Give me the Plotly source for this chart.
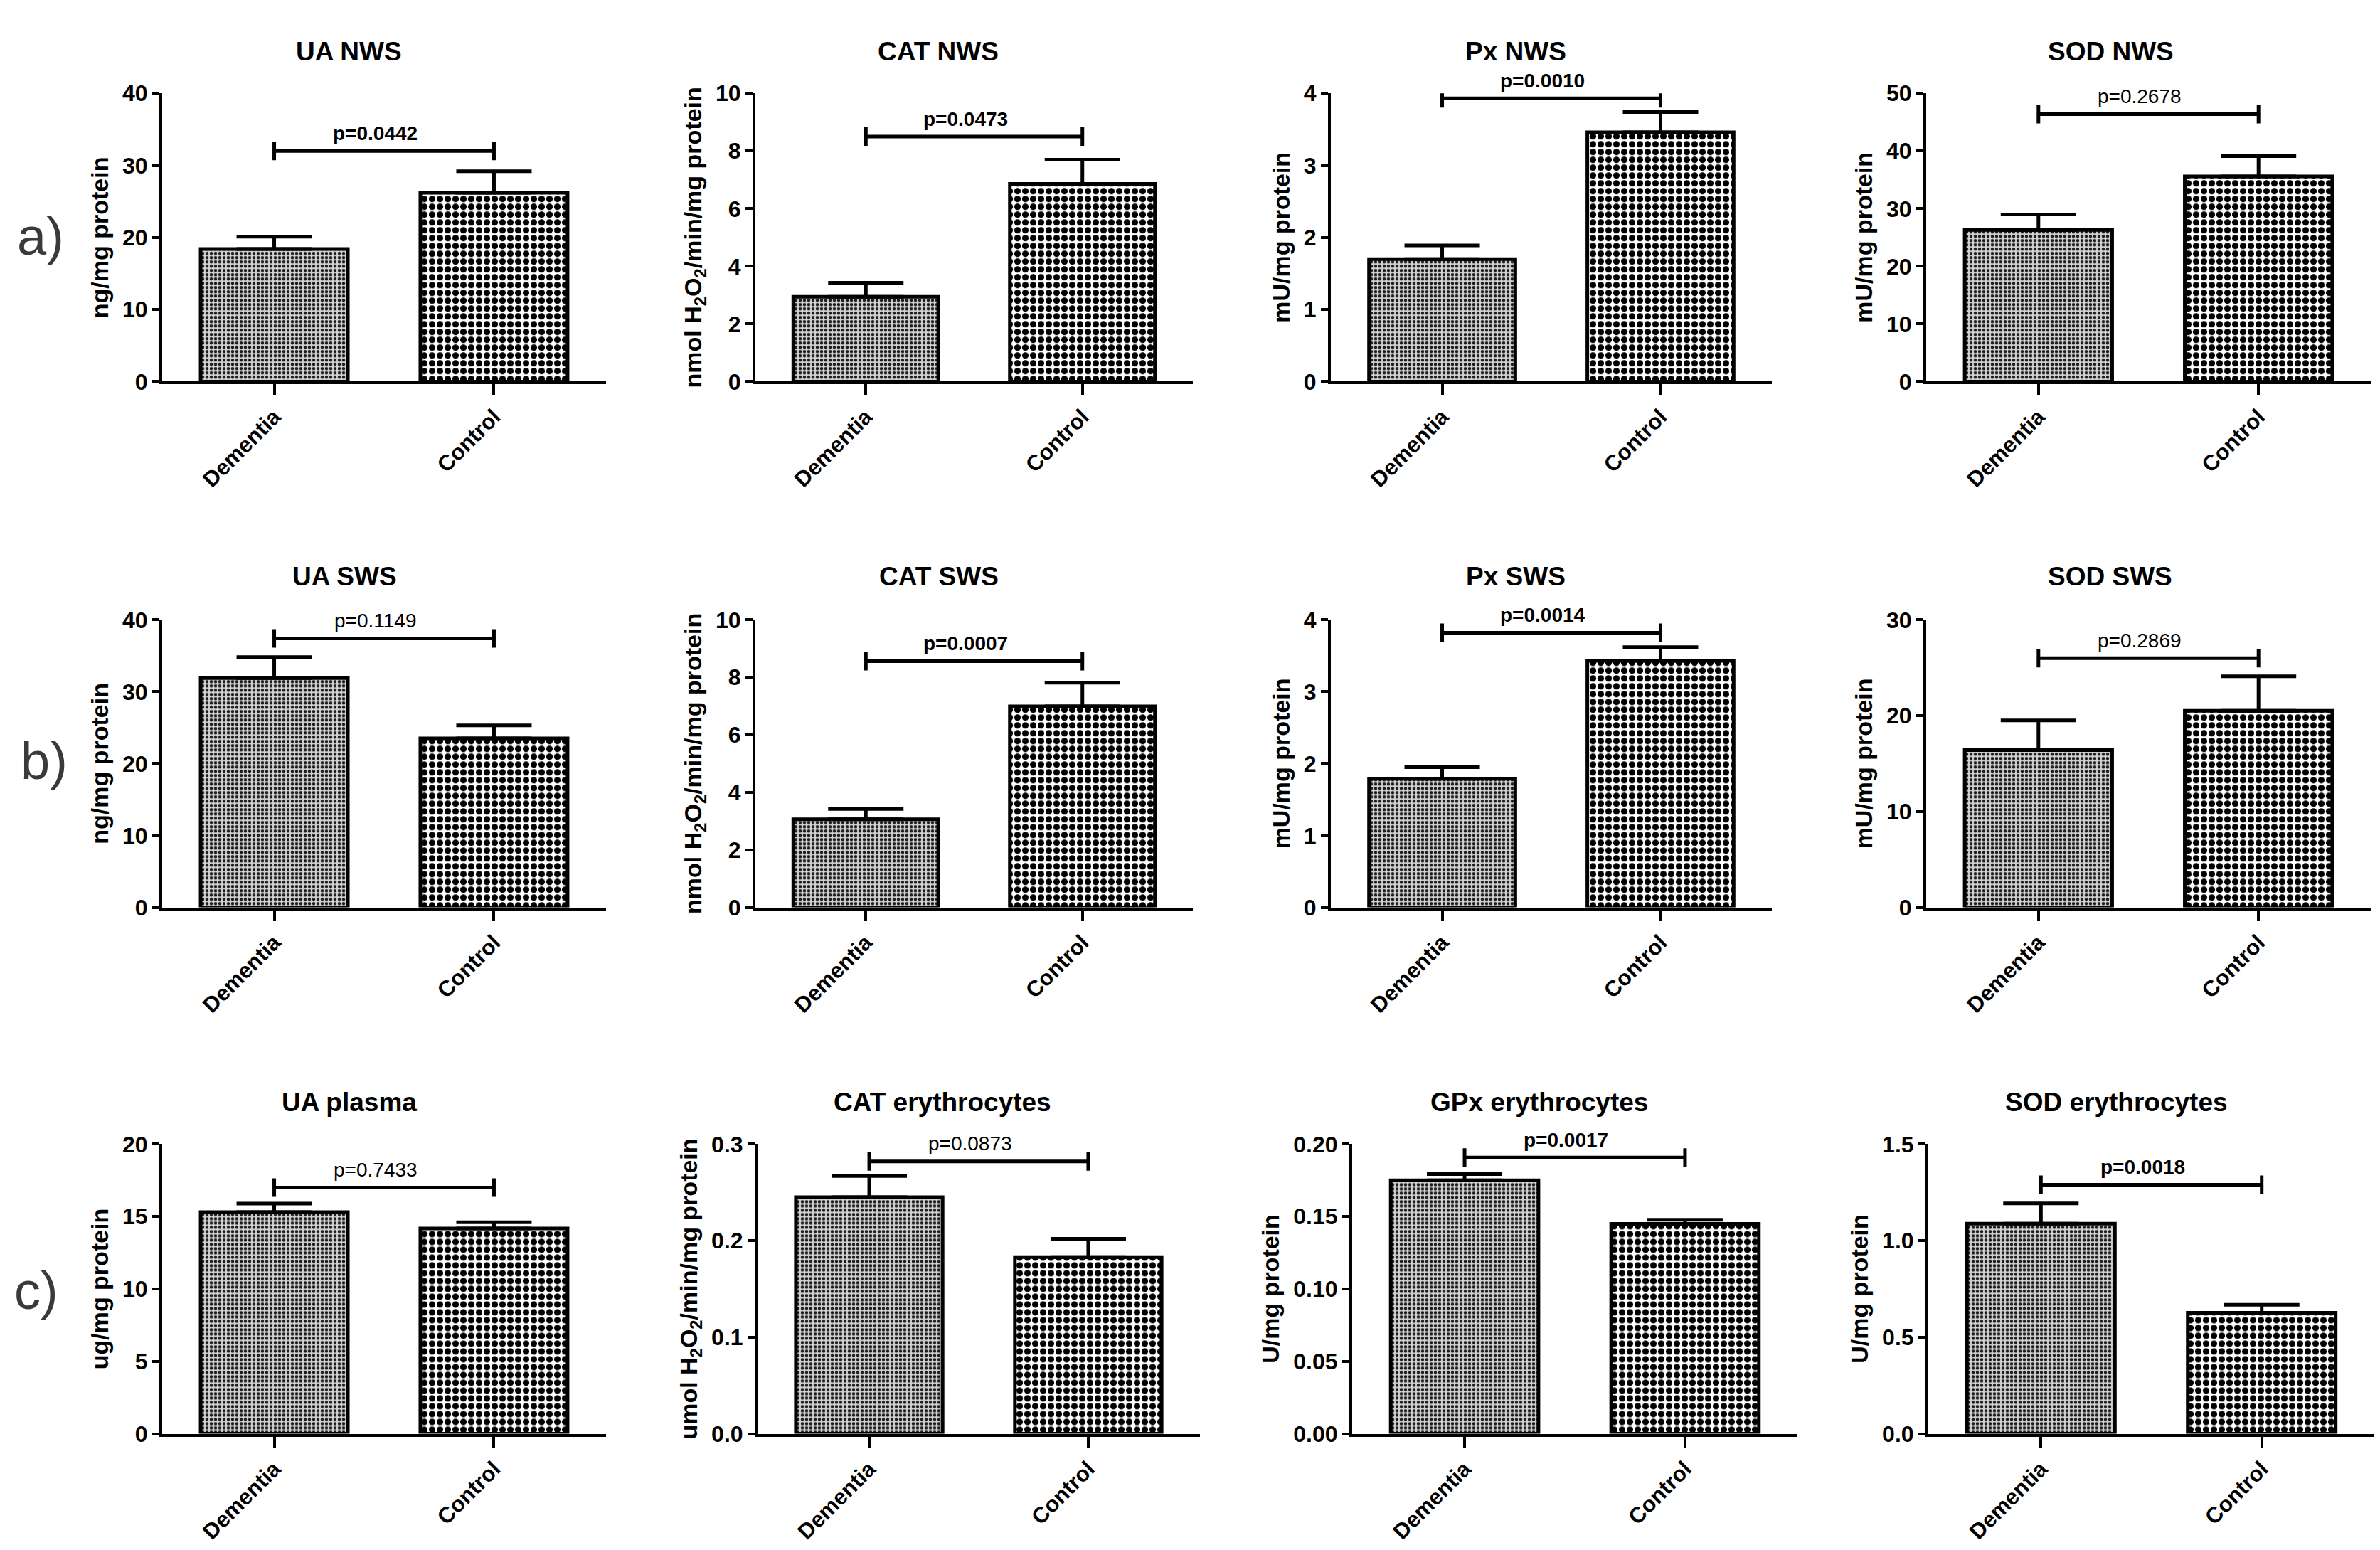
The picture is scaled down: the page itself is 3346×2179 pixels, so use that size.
import plotly.graph_objects as go

W, H = 3346, 2179

# ---------------- data ----------------
categories = ["Dementia", "Control"]
panel_titles = ["UA NWS", "CAT NWS", "Px NWS", "SOD NWS",
                "UA SWS", "CAT SWS", "Px SWS", "SOD SWS",
                "UA plasma", "CAT erythrocytes", "GPx erythrocytes", "SOD erythrocytes"]
y_titles = ["ng/mg protein", "nmol H<sub>2</sub>O<sub>2</sub>/min/mg protein", "mU/mg protein", "mU/mg protein",
            "ng/mg protein", "nmol H<sub>2</sub>O<sub>2</sub>/min/mg protein", "mU/mg protein", "mU/mg protein",
            "ug/mg protein", "umol H<sub>2</sub>O<sub>2</sub>/min/mg protein", "U/mg protein", "U/mg protein"]
dementia_mean = [18.4, 2.94, 1.70, 26.3, 31.9, 3.06, 1.79, 16.4, 15.3, 0.245, 0.175, 1.088]
dementia_sem = [1.7, 0.49, 0.19, 2.7, 2.9, 0.36, 0.16, 3.1, 0.6, 0.022, 0.0043, 0.105]
control_mean = [26.2, 6.86, 3.46, 35.6, 23.5, 6.99, 3.43, 20.5, 14.18, 0.183, 0.145, 0.627]
control_sem = [3.0, 0.84, 0.28, 3.5, 1.8, 0.82, 0.19, 3.6, 0.42, 0.019, 0.0028, 0.041]
y_max = [40, 10, 4, 50, 40, 10, 4, 30, 20, 0.3, 0.20, 1.5]
y_dtick = [10, 2, 1, 10, 10, 2, 1, 10, 5, 0.1, 0.05, 0.5]
y_tickformat = ["", "", "", "", "", "", "", "", "", ".1f", ".2f", ".1f"]
bracket_y = [32.0, 8.5, 3.93, 46.4, 37.4, 8.56, 3.82, 26.0, 17.0, 0.282, 0.1907, 1.29]
p_labels = ["p=0.0442", "p=0.0473", "p=0.0010", "p=0.2678",
            "p=0.1149", "p=0.0007", "p=0.0014", "p=0.2869",
            "p=0.7433", "p=0.0873", "p=0.0017", "p=0.0018"]
p_bold = [True, True, True, False, False, True, True, False, False, False, True, True]
row_labels = ["a)", "b)", "c)"]

# ---------------- layout geometry (pixels) ----------------
col_x = [[(220, 844), (1054, 1669), (1863, 2483), (2700, 3325)],
         [(220, 844), (1054, 1669), (1863, 2483), (2700, 3325)],
         [(220, 844), (1057, 1679), (1893, 2519), (2703, 3330)]]
row_y = [(107, 519), (859.5, 1270.5), (1609, 2023)]
title_x = [[482, 1311, 2123, 2959], [477, 1312, 2123, 2958], [483, 1317, 2156, 2967]]
title_y = [47, 798, 1549]
row_label_pos = [(49, 312), (54, 1061), (43, 1819)]

FONT = "Liberation Sans, Arial, sans-serif"

bar_styles = [
    dict(bg="#d2d2d2", fg="#1e1e1e", size=6, solidity=0.45),  # Dementia: fine grey dots
    dict(bg="white", fg="black", size=11, solidity=0.55),     # Control: coarse checker
]


def px(x):
    return x / W


def py(y):
    return 1 - y / H


fig = go.Figure()
layout = dict(
    width=W, height=H,
    margin=dict(l=0, r=0, t=0, b=0),
    paper_bgcolor="white", plot_bgcolor="white",
    showlegend=False,
    font=dict(family=FONT, color="black"),
    barmode="overlay",
)
annotations = []
shapes = []

for i in range(12):
    r, c = divmod(i, 4)
    n = i + 1
    xa = "x" if n == 1 else f"x{n}"
    ya = "y" if n == 1 else f"y{n}"
    xk = "xaxis" if n == 1 else f"xaxis{n}"
    yk = "yaxis" if n == 1 else f"yaxis{n}"
    x0, x1 = col_x[r][c]
    y0, y1 = row_y[r]

    means = [dementia_mean[i], control_mean[i]]
    sems = [dementia_sem[i], control_sem[i]]
    for k, cat in enumerate(categories):
        st = bar_styles[k]
        fig.add_trace(go.Bar(
            x=[cat], y=[means[k]],
            xaxis=xa, yaxis=ya,
            width=0.67,
            marker=dict(
                color=st["bg"],
                line=dict(color="black", width=5),
                pattern=dict(shape=".", fgcolor=st["fg"], bgcolor=st["bg"],
                             size=st["size"], solidity=st["solidity"],
                             fillmode="replace"),
            ),
            error_y=dict(type="data", symmetric=False,
                         array=[sems[k]], arrayminus=[0],
                         color="black", thickness=5, width=53),
            hoverinfo="skip",
        ))

    layout[xk] = dict(
        domain=[px(x0), px(x1)], anchor=ya,
        type="category", categoryorder="array", categoryarray=categories,
        range=[-0.51, 1.51],
        showline=True, linecolor="black", linewidth=4,
        ticks="outside", ticklen=15, tickwidth=4, tickcolor="black",
        tickangle=-45, showgrid=False, zeroline=False,
        tickfont=dict(family=FONT, size=31, weight="bold", color="black"),
    )
    ydict = dict(
        domain=[py(y1), py(y0)], anchor=xa,
        range=[0, y_max[i]], tick0=0, dtick=y_dtick[i],
        showline=True, linecolor="black", linewidth=4,
        ticks="outside", ticklen=10, tickwidth=4, tickcolor="black",
        showgrid=False, zeroline=False,
        tickfont=dict(family=FONT, size=32, weight="bold", color="black"),
        title=dict(text=y_titles[i], standoff=10,
                   font=dict(family=FONT, size=34, weight="bold", color="black")),
    )
    if y_tickformat[i]:
        ydict["tickformat"] = y_tickformat[i]
    layout[yk] = ydict

    # panel title
    annotations.append(dict(
        text=panel_titles[i], xref="paper", yref="paper",
        x=px(title_x[r][c]), y=py(title_y[r]), xanchor="center", yanchor="middle",
        showarrow=False, font=dict(family=FONT, size=37, weight="bold", color="black"),
    ))

    # significance bracket
    shapes.append(dict(type="line", xref=xa, yref=ya, x0=0, x1=1,
                       y0=bracket_y[i], y1=bracket_y[i],
                       line=dict(color="black", width=5)))
    for xe in (0, 1):
        shapes.append(dict(type="line", xref=xa, yref=ya, x0=xe, x1=xe,
                           ysizemode="pixel", yanchor=bracket_y[i], y0=-13, y1=13,
                           line=dict(color="black", width=5)))
    annotations.append(dict(
        text=p_labels[i], xref=xa, yref=ya, x=0.46, y=bracket_y[i],
        xanchor="center", yanchor="middle", yshift=25, showarrow=False,
        font=dict(family=FONT, size=28, weight="bold" if p_bold[i] else "normal", color="black"),
    ))

for lab, (lx, ly) in zip(row_labels, row_label_pos):
    annotations.append(dict(
        text=lab, xref="paper", yref="paper", x=px(lx), y=py(ly),
        xanchor="center", yanchor="middle", showarrow=False,
        font=dict(family=FONT, size=74, color="#3a3a3a"),
    ))

layout["annotations"] = annotations
layout["shapes"] = shapes
fig.update_layout(**layout)

fig.write_html("out.html")
